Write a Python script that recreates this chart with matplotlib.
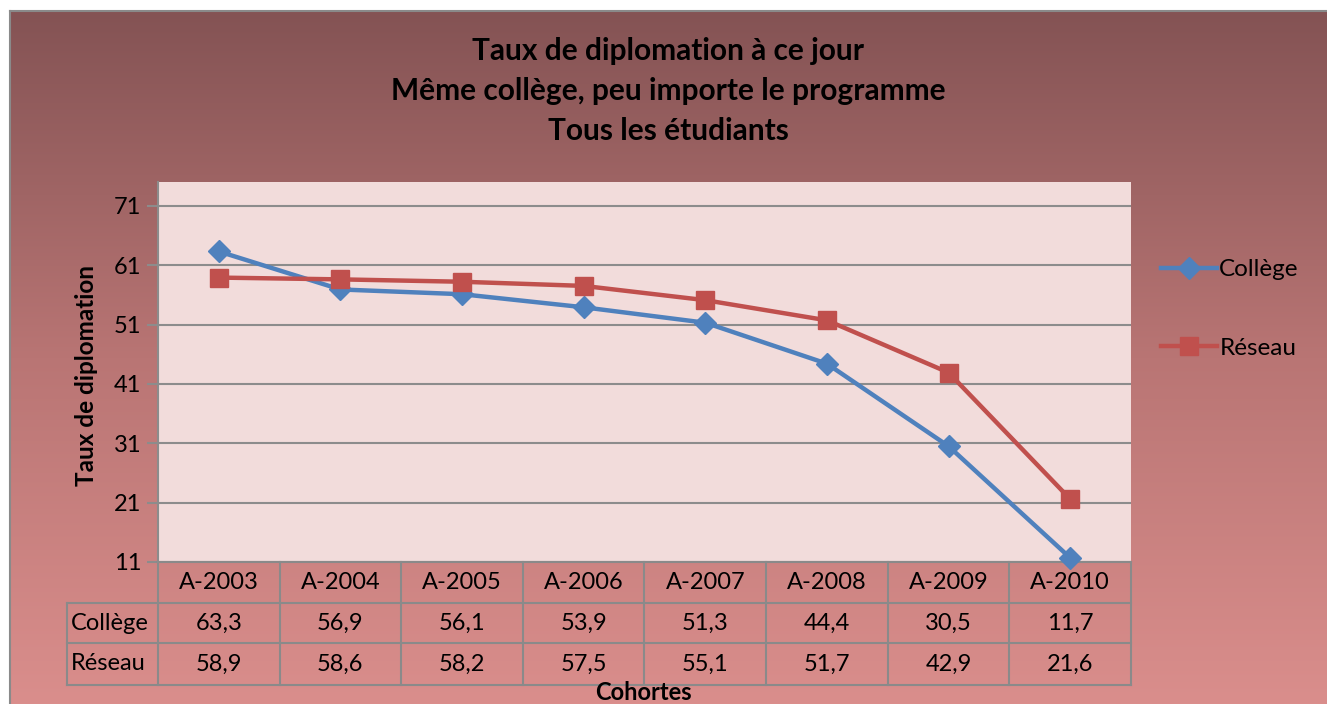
import numpy as np
import matplotlib
matplotlib.use("Agg")
import matplotlib.pyplot as plt
from matplotlib.lines import Line2D
from matplotlib.colors import LinearSegmentedColormap
import matplotlib.transforms as mtransforms

plt.rcParams['font.family'] = ['Lato', 'DejaVu Sans']

categories = ["A-2003", "A-2004", "A-2005", "A-2006", "A-2007", "A-2008", "A-2009", "A-2010"]
college = [63.3, 56.9, 56.1, 53.9, 51.3, 44.4, 30.5, 11.7]
reseau = [58.9, 58.6, 58.2, 57.5, 55.1, 51.7, 42.9, 21.6]
series_names = ["Collège", "Réseau"]
yticks = [11, 21, 31, 41, 51, 61, 71]
title_lines = ["Taux de diplomation à ce jour",
               "Même collège, peu importe le programme",
               "Tous les étudiants"]

W, H = 1327, 704
fig = plt.figure(figsize=(W / 100, H / 100), dpi=100)
fig.patch.set_facecolor("white")

# gradient background of chart area
bg = fig.add_axes([10 / W, 0, 1 - 10 / W, 1 - 11 / H], zorder=-5)
cmap = LinearSegmentedColormap.from_list("bg", ["#845354", "#B97574", "#DA8E8C"])
grad = np.linspace(0, 1, 256).reshape(-1, 1)
bg.imshow(grad, aspect="auto", cmap=cmap, extent=[0, 1, 0, 1], origin="upper")
bg.set_xlim(0, 1)
bg.set_ylim(0, 1)
bg.set_xticks([])
bg.set_yticks([])
for s in ["right", "bottom"]:
    bg.spines[s].set_visible(False)
for s in ["left", "top"]:
    bg.spines[s].set_color("#8a8a8a")
    bg.spines[s].set_linewidth(1.5)

L, R, T, B = 158, 1131, 182, 562
ax = fig.add_axes([L / W, 1 - B / H, (R - L) / W, (B - T) / H])
ax.set_facecolor("#F2DCDB")
x = np.arange(len(categories))
ax.plot(x, college, color="#4F81BD", lw=3.2, marker="D", ms=11, mfc="#4F81BD",
        mec="#4F81BD", label=series_names[0], zorder=3, clip_on=False)
ax.plot(x, reseau, color="#C0504D", lw=3.2, marker="s", ms=13, mfc="#C0504D",
        mec="#C0504D", label=series_names[1], zorder=3, clip_on=False)
ax.set_xlim(-0.5, len(categories) - 0.5)
ax.set_ylim(11, 75)
ax.set_yticks(yticks)
ax.set_yticklabels([str(v) for v in yticks], fontsize=17)
ax.set_xticks([])
ax.yaxis.grid(True, color="#8c8c8c", lw=1.5)
ax.set_axisbelow(True)
ax.tick_params(axis="y", length=8, width=1.5, color="#8c8c8c", pad=4)
for s in ["top", "right", "bottom"]:
    ax.spines[s].set_visible(False)
ax.spines["left"].set_color("#8c8c8c")
ax.spines["left"].set_linewidth(1.5)

# data table below axes
ph = B - T
row_edges_px = [562, 603, 643, 685]
row_edges = [-(p - B) / ph for p in row_edges_px]
label_left = (67 - L) / (R - L)
gc = "#8a8a8a"
lw = 1.5
axt = ax.transAxes
blend = mtransforms.blended_transform_factory(ax.transData, ax.transAxes)
# horizontal lines
ax.add_line(Line2D([0, 1], [row_edges[0]] * 2, transform=axt, color=gc, lw=lw, clip_on=False))
for yy in row_edges[1:]:
    ax.add_line(Line2D([label_left, 1], [yy] * 2, transform=axt, color=gc, lw=lw, clip_on=False))
# vertical lines
for i in range(len(categories) + 1):
    xv = i - 0.5
    ax.add_line(Line2D([xv, xv], [row_edges[0], row_edges[3]], transform=blend,
                       color=gc, lw=lw, clip_on=False))
ax.add_line(Line2D([label_left, label_left], [row_edges[1], row_edges[3]], transform=axt,
                   color=gc, lw=lw, clip_on=False))
fs = 17
for i, c in enumerate(categories):
    ax.text(i, (row_edges[0] + row_edges[1]) / 2, c, transform=blend, ha="center",
            va="center", fontsize=fs)
    ax.text(i, (row_edges[1] + row_edges[2]) / 2, f"{college[i]:.1f}".replace(".", ","),
            transform=blend, ha="center", va="center", fontsize=fs)
    ax.text(i, (row_edges[2] + row_edges[3]) / 2, f"{reseau[i]:.1f}".replace(".", ","),
            transform=blend, ha="center", va="center", fontsize=fs)
ax.text(label_left + 0.004, (row_edges[1] + row_edges[2]) / 2, series_names[0], transform=axt,
        ha="left", va="center", fontsize=fs)
ax.text(label_left + 0.004, (row_edges[2] + row_edges[3]) / 2, series_names[1], transform=axt,
        ha="left", va="center", fontsize=fs)

# axis titles
fig.text(643 / W, 1 - 692 / H, "Cohortes", ha="center", va="center", fontsize=17, fontweight="bold")
fig.text(86 / W, 1 - 375 / H, "Taux de diplomation", ha="center", va="center", fontsize=17.5,
         fontweight="bold", rotation=90)

# title
for i, t in enumerate(title_lines):
    fig.text(668 / W, 1 - (51 + 40 * i) / H, t, ha="center", va="center", fontsize=21.5,
             fontweight="bold")

# legend
fig.legend(loc="center left", bbox_to_anchor=(1144 / W, 1 - 309 / H), frameon=False,
           fontsize=17.5, handlelength=2.3, labelspacing=2.35, handletextpad=0.1,
           borderpad=0.2)

fig.savefig("out.png", dpi=100)
